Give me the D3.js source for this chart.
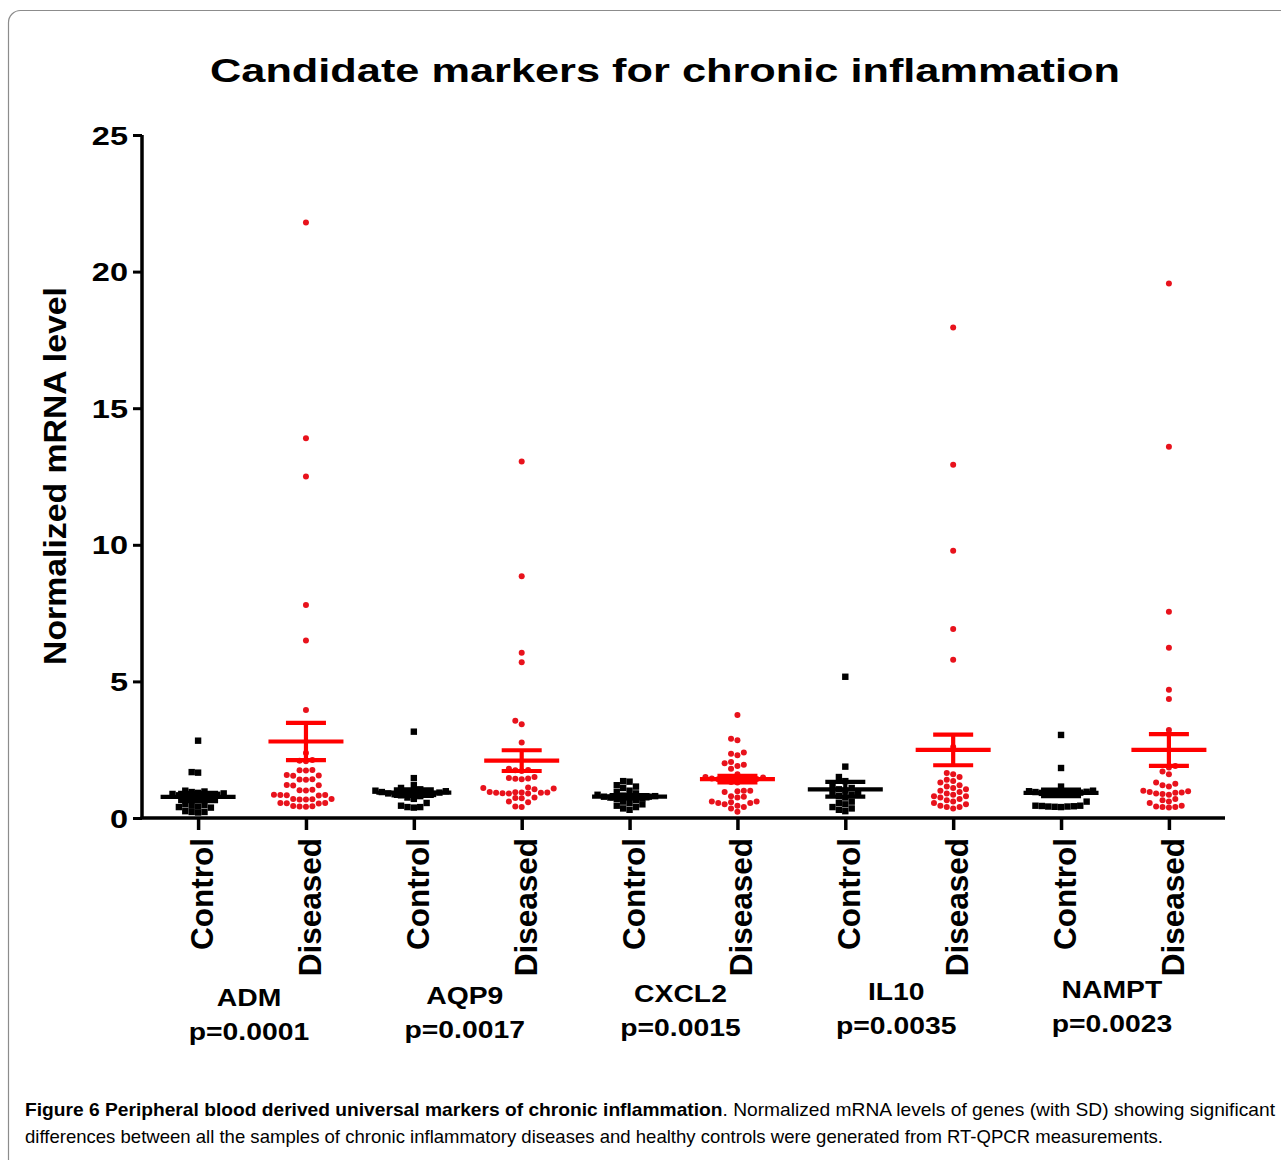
<!DOCTYPE html>
<html>
<head>
<meta charset="utf-8">
<script src="https://cdn.jsdelivr.net/npm/d3@7"></script>
<style>
  body { margin: 0; background: #fff; }
  text { font-family: "Liberation Sans", Arial, sans-serif; }
</style>
</head>
<body>
<div id="chart-container"></div>
<script>
// Groups along the x axis
var genes = ["ADM", "AQP9", "CXCL2", "IL10", "NAMPT"];
var pValues = ["p=0.0001", "p=0.0017", "p=0.0015", "p=0.0035", "p=0.0023"];
var groupNames = ["Control", "Diseased"];
var yTicks = [0, 5, 10, 15, 20, 25];

var admControl = [2.83, 1.68, 1.66, 1.0, 0.97, 0.95, 0.92, 0.9, 0.88, 0.85, 0.83, 0.8, 0.78, 0.75, 0.72, 0.7, 0.5, 0.47, 0.45, 0.42, 0.4, 0.38, 0.25, 0.22, 0.2, 0.22];
var admDiseased = [21.8, 13.9, 12.5, 7.8, 6.5, 3.95, 2.38, 2.12, 2.1, 2.08, 1.76, 1.75, 1.74, 1.57, 1.56, 1.55, 1.42, 1.41, 1.4, 1.21, 1.2, 1.19, 1.03, 1.02, 1.01, 0.85, 0.84, 0.84, 0.83, 0.82, 0.7, 0.7, 0.69, 0.68, 0.68, 0.55, 0.55, 0.54, 0.53, 0.44, 0.43, 0.42, 0.41];
var aqp9Control = [3.16, 1.46, 1.2, 1.1, 1.05, 1.0, 0.98, 0.96, 0.95, 0.93, 0.92, 0.9, 0.88, 0.87, 0.85, 0.83, 0.8, 0.75, 0.7, 0.55, 0.45, 0.4, 0.38, 0.4];
var aqp9Diseased = [13.05, 8.85, 6.05, 5.7, 3.56, 3.43, 2.76, 1.8, 1.76, 1.75, 1.72, 1.5, 1.46, 1.45, 1.44, 1.42, 1.1, 1.08, 1.12, 1.05, 0.95, 0.93, 0.92, 0.92, 0.9, 0.91, 0.93, 0.94, 0.9, 0.75, 0.73, 0.72, 0.6, 0.58, 0.42, 0.4];
var cxcl2Control = [1.35, 1.33, 1.2, 1.15, 1.1, 1.0, 0.95, 0.9, 0.85, 0.82, 0.8, 0.78, 0.78, 0.76, 0.75, 0.72, 0.7, 0.65, 0.6, 0.55, 0.5, 0.45, 0.4, 0.35, 0.3];
var cxcl2Diseased = [3.77, 2.9, 2.85, 2.4, 2.35, 2.3, 2.05, 2.0, 1.95, 1.9, 1.8, 1.6, 1.5, 1.48, 1.45, 1.43, 1.42, 1.4, 1.38, 1.35, 1.32, 1.3, 1.0, 1.0, 0.98, 0.95, 0.8, 0.78, 0.75, 0.6, 0.6, 0.58, 0.55, 0.55, 0.5, 0.45, 0.4, 0.35, 0.23];
var il10Control = [5.17, 1.88, 1.5, 1.35, 1.2, 1.1, 1.05, 1.0, 0.95, 0.9, 0.85, 0.8, 0.75, 0.6, 0.55, 0.5, 0.4, 0.35, 0.3, 0.25];
var il10Diseased = [17.95, 12.93, 9.78, 6.92, 5.79, 2.6, 1.65, 1.6, 1.5, 1.4, 1.35, 1.3, 1.2, 1.15, 1.1, 1.05, 1.0, 0.95, 0.9, 0.85, 0.8, 0.8, 0.75, 0.7, 0.65, 0.6, 0.55, 0.5, 0.45, 0.4, 0.4, 0.35];
var namptControl = [3.04, 1.83, 1.15, 1.0, 0.98, 0.96, 0.95, 0.93, 0.92, 0.9, 0.88, 0.87, 0.85, 0.85, 0.6, 0.45, 0.44, 0.43, 0.42, 0.41, 0.4, 0.42, 0.45];
var namptDiseased = [19.56, 13.59, 7.55, 6.23, 4.69, 4.36, 3.22, 1.9, 1.85, 1.7, 1.6, 1.3, 1.25, 1.2, 1.15, 1.0, 0.98, 0.95, 0.93, 0.92, 0.9, 0.88, 0.85, 0.7, 0.65, 0.6, 0.55, 0.45, 0.42, 0.4, 0.4, 0.38];

// Mean and error half-width per group (Control, Diseased for each gene)
var means = [0.77, 2.8, 0.93, 2.1, 0.78, 1.42, 1.05, 2.49, 0.92, 2.49];
var errors = [0.15, 0.68, 0.12, 0.38, 0.06, 0.12, 0.27, 0.56, 0.12, 0.58];

var samples = [admControl, admDiseased, aqp9Control, aqp9Diseased, cxcl2Control, cxcl2Diseased,
               il10Control, il10Diseased, namptControl, namptDiseased];

var W = 1281, H = 1160;
var margin = { top: 135, left: 142, right: 56, bottom: 342 };

var svg = d3.select("#chart-container").append("svg")
    .attr("width", W).attr("height", H);

svg.append("rect").attr("width", W).attr("height", H).attr("fill", "#fff");

// panel frame (rounded, runs off the right/bottom)
svg.append("rect")
    .attr("x", 8.5).attr("y", 10.5)
    .attr("width", 1320).attr("height", 1200)
    .attr("rx", 12)
    .attr("fill", "none")
    .attr("stroke", "#8c8c8c")
    .attr("stroke-width", 1.2);

var keys = [];
genes.forEach(function (g) {
    groupNames.forEach(function (n) { keys.push(g + "|" + n); });
});

var x = d3.scalePoint()
    .domain(keys)
    .range([margin.left, W - margin.right])
    .padding(0.52);

var y = d3.scaleLinear()
    .domain([0, 25])
    .range([H - margin.bottom, margin.top]);

// stretch helper: glyphs in the source are horizontally wide
function stretch(sel, f) {
    sel.each(function () {
        var w = this.getComputedTextLength();
        d3.select(this).attr("textLength", w * f).attr("lengthAdjust", "spacingAndGlyphs");
    });
}

// Title
svg.append("text")
    .attr("x", 665).attr("y", 82)
    .attr("text-anchor", "middle")
    .attr("font-size", 33)
    .attr("font-weight", "bold")
    .attr("textLength", 910)
    .attr("lengthAdjust", "spacingAndGlyphs")
    .text("Candidate markers for chronic inflammation");

// Y axis
var yAxis = svg.append("g")
    .attr("transform", "translate(" + margin.left + ",0)")
    .call(d3.axisLeft(y).tickValues(yTicks).tickSize(9).tickPadding(5));
yAxis.select(".domain").attr("stroke-width", 3.5).attr("d", "M0," + y(25) + "V" + y(0));
yAxis.selectAll(".tick line").attr("stroke-width", 3);
yAxis.selectAll(".tick text")
    .attr("font-size", 25)
    .attr("font-weight", "bold")
    .attr("fill", "#000")
    .attr("dy", "0.36em")
    .call(stretch, 1.3);

svg.append("text")
    .attr("transform", "translate(66," + 476 + ") rotate(-90)")
    .attr("text-anchor", "middle")
    .attr("font-size", 31)
    .attr("font-weight", "bold")
    .attr("textLength", 378)
    .attr("lengthAdjust", "spacingAndGlyphs")
    .text("Normalized mRNA level");

// X axis
var xAxis = svg.append("g")
    .attr("transform", "translate(0," + y(0) + ")")
    .call(d3.axisBottom(x).tickSize(12).tickSizeOuter(0).tickFormat(""));
xAxis.select(".domain").attr("stroke-width", 3.5)
    .attr("d", "M" + (margin.left - 1.5) + ",0H" + (W - margin.right));
xAxis.selectAll(".tick line").attr("stroke-width", 3.5);

// group labels, rotated
svg.selectAll(".grp-label")
    .data(keys)
    .enter().append("text")
    .attr("class", "grp-label")
    .attr("transform", function (d) { return "translate(" + (x(d) + 15) + ",838) rotate(-90)"; })
    .attr("text-anchor", "end")
    .attr("font-size", 31.5)
    .attr("font-weight", "bold")
    .text(function (d) { return d.split("|")[1]; });

// gene name + p value below each pair
genes.forEach(function (g, i) {
    var cx = (x(g + "|Control") + x(g + "|Diseased")) / 2 - 3;
    var tilt = (cx - 250) * 0.009;
    svg.append("text")
        .attr("x", cx).attr("y", 1006 - tilt)
        .attr("text-anchor", "middle")
        .attr("font-size", 24).attr("font-weight", "bold")
        .text(g).call(stretch, 1.18);
    svg.append("text")
        .attr("x", cx).attr("y", 1040 - tilt)
        .attr("text-anchor", "middle")
        .attr("font-size", 24).attr("font-weight", "bold")
        .text(pValues[i]).call(stretch, 1.18);
});

// simple beeswarm layout for the points (points may touch / overlap a bit)
function swarm(values, cx, dx, dy) {
    var pts = values.map(function (v) { return { v: v, py: y(v) }; })
        .sort(function (a, b) { return b.py - a.py; });
    var placed = [];
    pts.forEach(function (p) {
        for (var k = 0; k < 40; k++) {
            var off = (k % 2 === 0 ? 1 : -1) * Math.ceil(k / 2) * dx;
            var ok = placed.every(function (q) {
                return Math.abs(q.px - (cx + off)) >= dx - 0.01 || Math.abs(q.py - p.py) >= dy;
            });
            if (ok) { p.px = cx + off; break; }
        }
        placed.push(p);
    });
    return placed;
}

var red = "#e8121c";

samples.forEach(function (vals, i) {
    var key = keys[i];
    var isCtrl = i % 2 === 0;
    var pts = swarm(vals, x(key), 6.4, 5.6);
    var g = svg.append("g");
    if (isCtrl) {
        g.selectAll("rect").data(pts).enter().append("rect")
            .attr("x", function (d) { return d.px - 3.2; })
            .attr("y", function (d) { return d.py - 3.2; })
            .attr("width", 6.4).attr("height", 6.4)
            .attr("fill", "#000");
    } else {
        g.selectAll("circle").data(pts).enter().append("circle")
            .attr("cx", function (d) { return d.px; })
            .attr("cy", function (d) { return d.py; })
            .attr("r", 3)
            .attr("fill", red);
    }

    // mean and error bars
    var col = isCtrl ? "#000" : "#ff0000";
    var cx = x(key), m = means[i], e = errors[i];
    var eb = svg.append("g").attr("stroke", col).attr("stroke-width", 4.2);
    eb.append("line").attr("x1", cx).attr("x2", cx).attr("y1", y(m - e)).attr("y2", y(m + e));
    eb.append("line").attr("x1", cx - 37.5).attr("x2", cx + 37.5).attr("y1", y(m)).attr("y2", y(m));
    [m - e, m + e].forEach(function (v) {
        eb.append("line").attr("x1", cx - 20).attr("x2", cx + 20).attr("y1", y(v)).attr("y2", y(v));
    });
});

// caption
var cap1 = svg.append("text")
    .attr("x", 25).attr("y", 1116)
    .attr("font-size", 18.5)
    .attr("textLength", 1250)
    .attr("lengthAdjust", "spacingAndGlyphs");
cap1.append("tspan").attr("font-weight", "bold")
    .text("Figure 6 Peripheral blood derived universal markers of chronic inflammation");
cap1.append("tspan")
    .text(". Normalized mRNA levels of genes (with SD) showing significant");

svg.append("text")
    .attr("x", 25).attr("y", 1143)
    .attr("font-size", 18.5)
    .attr("textLength", 1138)
    .attr("lengthAdjust", "spacingAndGlyphs")
    .text("differences between all the samples of chronic inflammatory diseases and healthy controls were generated from RT-QPCR measurements.");
</script>
</body>
</html>
